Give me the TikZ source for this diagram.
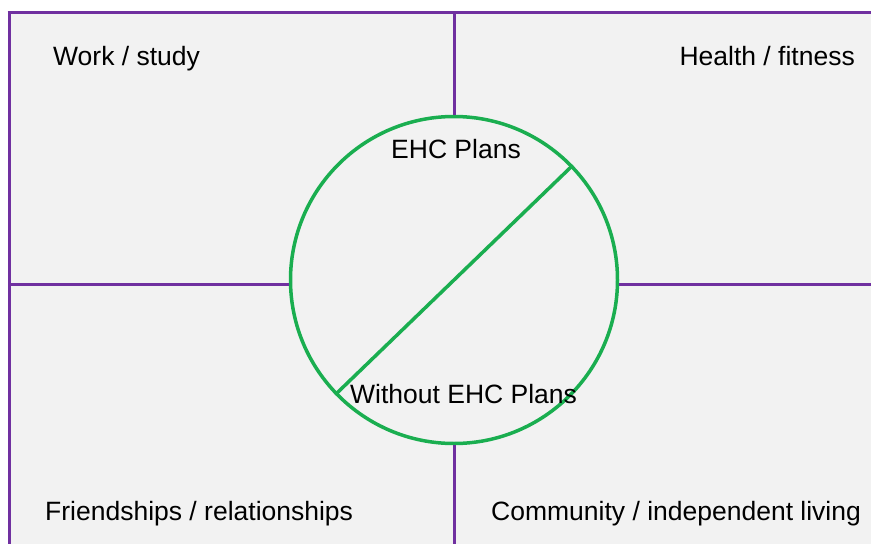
\documentclass[tikz,border=0pt]{standalone}
\usepackage{fontspec}
\setmainfont{Liberation Sans}
\definecolor{bggray}{HTML}{F2F2F2}
\definecolor{lpurple}{HTML}{7030A0}
\definecolor{lgreen}{HTML}{1AAE50}
\begin{document}
\begin{tikzpicture}[x=1pt,y=-1pt,
  divider/.style={draw=lpurple,line width=3pt},
  ring/.style={draw=lgreen,line width=3.5pt,circle,minimum size=327pt,inner sep=0pt,fill=bggray},
  label/.style={inner sep=0pt,font=\fontsize{26.5}{30}\selectfont,text=black}]
\useasboundingbox (0,0) rectangle (871,544);
\fill[bggray] (9,12) rectangle (871,544);
\coordinate (tl) at (7.5,12);
\coordinate (tr) at (871,12);
\coordinate (bl) at (9,544);
\coordinate (tm) at (454,12);
\coordinate (bm) at (454,544);
\coordinate (lm) at (9,284);
\coordinate (rm) at (871,284);
\node[ring] (c) at (454,280) {};
\draw[divider] (tl) -- (tr);
\draw[divider] (9,12) -- (bl);
\draw[divider] (tm) -- (c.north);
\draw[divider] (c.south) -- (bm);
\draw[divider] (lm) -- (lm -| c.west);
\draw[divider] (rm -| c.east) -- (rm);
\draw[draw=lgreen,line width=3.5pt] (c.44) -- (c.224);
\node[label,anchor=base west] (ws) at (53,65) {Work / study};
\node[label,anchor=base east] (hf) at (855,65) {Health / fitness};
\node[label,anchor=base] (ehc) at (456,158) {EHC Plans};
\node[label,anchor=base west] (wehc) at (350,403) {Without EHC Plans};
\node[label,anchor=base west] (fr) at (45,520) {Friendships / relationships};
\node[label,anchor=base west] (cil) at (491,520) {Community / independent living};
\end{tikzpicture}
\end{document}
